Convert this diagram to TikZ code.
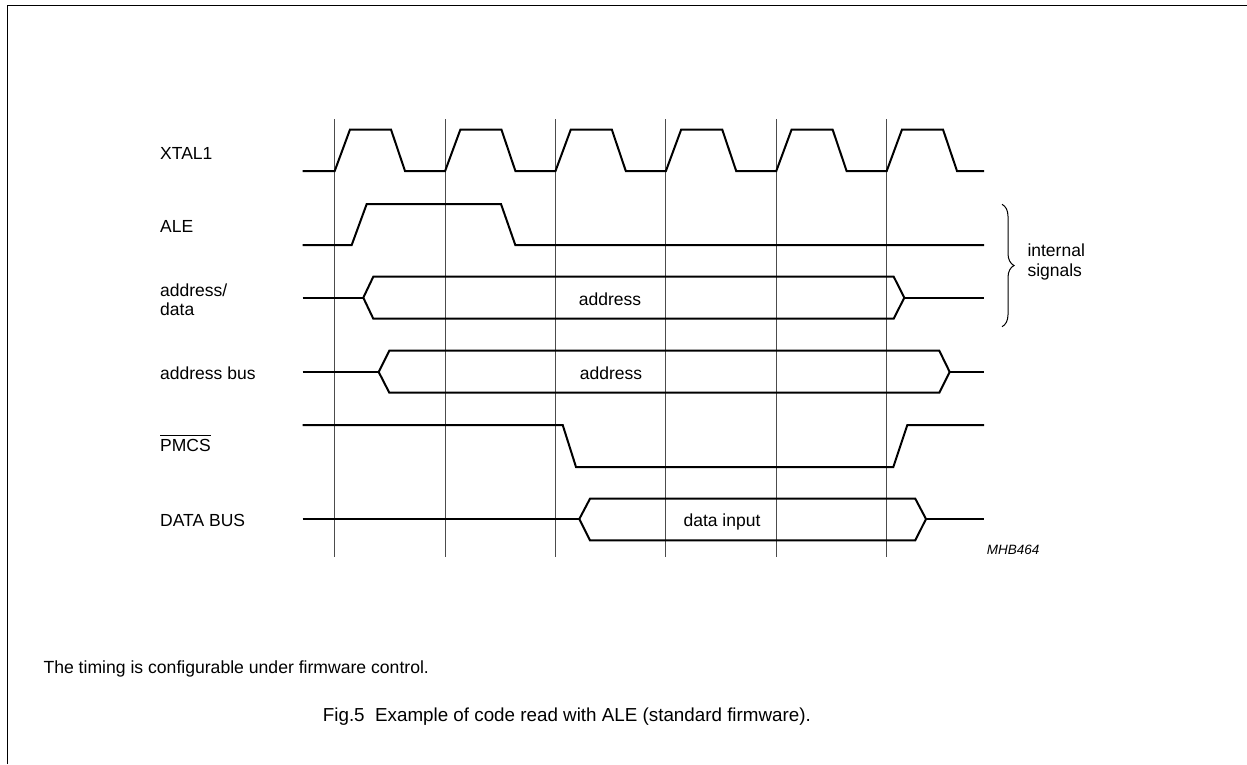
\documentclass[tikz,border=0pt]{standalone}
\usepackage{fontspec}
\setmainfont{Liberation Sans}
\usetikzlibrary{decorations.pathreplacing}
\begin{document}
\begin{tikzpicture}[x=1pt,y=-1pt,
  wave/.style={line width=2pt,line join=miter},
  grid/.style={line width=1pt,draw=black!70},
  lbl/.style={anchor=base west,inner sep=0pt,font=\fontsize{17.5}{19.7}\selectfont,align=left},
  intext/.style={anchor=base,inner sep=0pt,font=\fontsize{17.5}{19.7}\selectfont},
  frame/.style={line width=1.3pt}]
\useasboundingbox (0,0) rectangle (1247,764);
% frame
\draw[frame] (7.3,764) -- (7.3,5.7) -- (1247,5.7);
% vertical timing lines
\foreach \k in {0,...,5}
  \draw[grid] ({334.7+110.4*\k},119) -- ({334.7+110.4*\k},557);
% labels
\node[lbl] (lxtal) at (160,159.3) {XTAL1};
\node[lbl] (lale) at (160,232.3) {ALE};
\node[lbl] (lad) at (160,315.7) {address/\\data};
\node[lbl] (lab) at (160,379.3) {address bus};
\node[lbl] (lpm) at (160,451.7) {\rlap{\rule[15.8pt]{50.6pt}{1.1pt}}PMCS};
\node[lbl] (ldb) at (160,526.7) {DATA BUS};
% XTAL1
\draw[wave] (302.7,171)
  foreach \k in {0,...,5} { -- ({334.7+110.4*\k},171) -- ({350+110.4*\k},129.5)
    -- ({391+110.4*\k},129.5) -- ({405+110.4*\k},171) } -- (984,171);
% ALE
\draw[wave] (302.7,245) -- (351.7,245) -- (366.7,204) -- (501,204) -- (515.3,245) -- (984,245);
% address/data
\draw[wave] (302.7,297.7) -- (363.3,297.7);
\draw[wave] (363.3,297.7) -- (373.3,276.7) -- (893.7,276.7) -- (904.3,297.7) -- (893.7,318.7) -- (373.3,318.7) -- cycle;
\draw[wave] (904.3,297.7) -- (984,297.7);
\node[intext] (t1) at (610,305.3) {address};
% address bus
\draw[wave] (302.7,372) -- (378.7,372);
\draw[wave] (378.7,372) -- (389.3,350.7) -- (939.3,350.7) -- (949.7,372) -- (939.3,392.7) -- (389.3,392.7) -- cycle;
\draw[wave] (949.7,372) -- (984,372);
\node[intext] (t2) at (611,379) {address};
% PMCS
\draw[wave] (302.7,425) -- (562.7,425) -- (576,467) -- (893.3,467) -- (907.3,425) -- (984,425);
% DATA BUS
\draw[wave] (302.7,519) -- (579.3,519);
\draw[wave] (579.3,519) -- (590,498.7) -- (915.3,498.7) -- (926,519) -- (915.3,540.3) -- (590,540.3) -- cycle;
\draw[wave] (926,519) -- (984,519);
\node[intext] (t3) at (722,526) {data input};
% brace
\draw[line width=1pt,decorate,decoration={brace,amplitude=12pt}] (1002,204.3) -- (1002,326.7);
\node[lbl] (int) at (1027.3,276) {internal\\signals};
% code
\node[anchor=base west,inner sep=0pt,font=\fontsize{13.5}{16}\selectfont\itshape] (code) at (986.7,554) {MHB464};
% note and caption
\node[anchor=base west,inner sep=0pt,font=\fontsize{17.6}{20}\selectfont] (note) at (43.3,673.3) {The timing is configurable under firmware control.};
\node[anchor=base west,inner sep=0pt,font=\fontsize{18.8}{22}\selectfont] (cap) at (322.7,721) {Fig.5\hspace{0.556em}Example of code read with ALE (standard firmware).};
\end{tikzpicture}
\end{document}
